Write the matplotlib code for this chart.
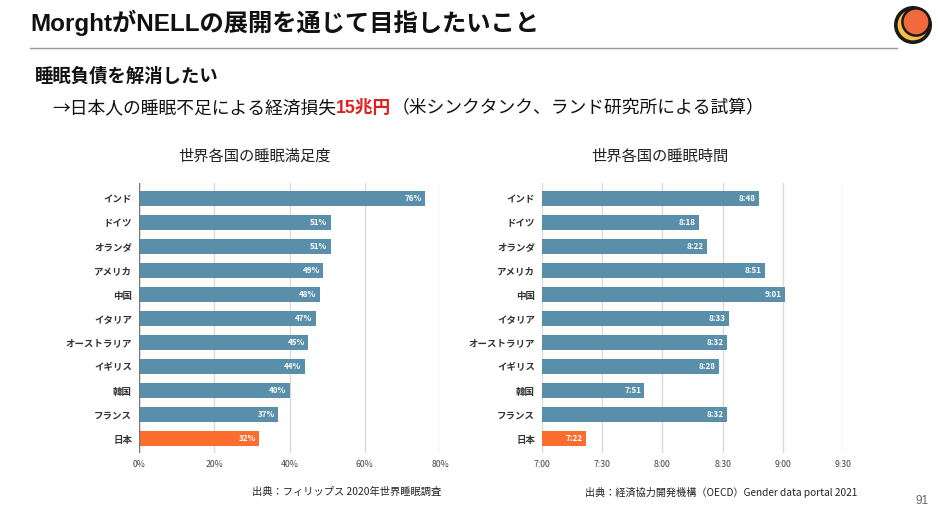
import matplotlib
matplotlib.use("Agg")
import matplotlib.pyplot as plt
from matplotlib.patches import Circle
from matplotlib.lines import Line2D

plt.rcParams['font.family'] = ['Noto Sans CJK JP', 'DejaVu Sans']

countries = ["インド", "ドイツ", "オランダ", "アメリカ", "中国", "イタリア",
             "オーストラリア", "イギリス", "韓国", "フランス", "日本"]
satisfaction = [76, 51, 51, 49, 48, 47, 45, 44, 40, 37, 32]
sleep_time = ["8:48", "8:18", "8:22", "8:51", "9:01", "8:33", "8:32", "8:28", "7:51", "8:32", "7:22"]
sat_ticks = [0, 20, 40, 60, 80]
sat_tick_labels = ["0%", "20%", "40%", "60%", "80%"]
time_ticks = ["7:00", "7:30", "8:00", "8:30", "9:00", "9:30"]

def to_min(s):
    h, m = s.split(":")
    return int(h) * 60 + int(m)

sleep_min = [to_min(s) for s in sleep_time]
time_tick_min = [to_min(s) for s in time_ticks]

BLUE = "#5a8fab"
ORANGE = "#fe6d30"
colors = [ORANGE if c == "日本" else BLUE for c in countries]

W, H = 940, 528
fig = plt.figure(figsize=(W / 100, H / 100), dpi=100)
fig.patch.set_facecolor("white")

def fx(px):
    return px / W

def fy(py):
    return 1 - py / H

HEAD = ['Liberation Sans', 'Noto Sans CJK JP']
CJK = ['Noto Sans CJK JP', 'DejaVu Sans']

# Header
fig.text(fx(30), fy(23), "MorghtがNELLの展開を通じて目指したいこと", fontsize=17.5,
         fontweight="bold", va="center", ha="left", color="#111111", family=HEAD)
fig.add_artist(Line2D([fx(30), fx(897)], [fy(48), fy(48)], color="#9a9a9a", lw=1))

# Logo
logo_ax = fig.add_axes([fx(893), fy(45), fx(40), 40 / H])
logo_ax.set_xlim(-1, 1)
logo_ax.set_ylim(-1, 1)
logo_ax.set_aspect("equal")
logo_ax.axis("off")
logo_ax.add_patch(Circle((0, 0), 0.86, facecolor="#f7c04a", edgecolor="#1a1a1a", lw=2.6))
logo_ax.add_patch(Circle((0.15, 0.15), 0.68, facecolor="#f26a3b", edgecolor="#1a1a1a", lw=1.8))

fig.text(fx(35), fy(77), "睡眠負債を解消したい", fontsize=13.2, fontweight="bold",
         va="center", ha="left", color="#111111", family=HEAD)

# Second line with red part
base = fy(113)
fs2 = 12.8
t1 = fig.text(fx(52), base, "→日本人の睡眠不足による経済損失", fontsize=fs2,
              va="baseline", ha="left", color="#111111", family=CJK)
fig.canvas.draw()
r = fig.canvas.get_renderer()
bb = t1.get_window_extent(renderer=r)
t2 = fig.text(bb.x1 / W, base, "15兆円", fontsize=fs2, fontweight="bold",
              va="baseline", ha="left", color="#e02020", family=HEAD)
bb2 = t2.get_window_extent(renderer=r)
fig.text(bb2.x1 / W, base, "（米シンクタンク、ランド研究所による試算）", fontsize=fs2,
         va="baseline", ha="left", color="#111111", family=CJK)

# Chart titles
fig.text(fx(255), fy(156), "世界各国の睡眠満足度", fontsize=11, ha="center", va="center", color="#222222")
fig.text(fx(660), fy(156), "世界各国の睡眠時間", fontsize=11, ha="center", va="center", color="#222222")

ax_top, ax_bot = 183, 453
ax_h = (ax_bot - ax_top) / H
y = list(range(len(countries)))

def style(ax):
    ax.set_ylim(10.6, -0.65)
    ax.set_yticks(y)
    ax.set_yticklabels(countries, fontsize=6.8, fontweight="bold", color="#333333")
    ax.tick_params(axis="both", length=0)
    ax.tick_params(axis="y", pad=5)
    ax.tick_params(axis="x", pad=5, labelsize=6.3, labelcolor="#444444")
    for s in ax.spines.values():
        s.set_visible(False)
    ax.grid(axis="x", color="#dadada", lw=1)
    ax.set_axisbelow(True)

# Left chart
ax1 = fig.add_axes([fx(139), fy(ax_bot), fx(301), ax_h])
ax1.barh(y, satisfaction, height=0.62, color=colors)
ax1.set_xlim(0, 80)
ax1.set_xticks(sat_ticks)
ax1.set_xticklabels(sat_tick_labels)
style(ax1)
ax1.axvline(0, color="#777777", lw=1, zorder=3)
for i, v in enumerate(satisfaction):
    ax1.text(v - 0.9, i, f"{v}%", color="white", fontsize=5.8, fontweight="bold",
             ha="right", va="center")

# Right chart
ax2 = fig.add_axes([fx(542), fy(ax_bot), fx(301), ax_h])
ax2.barh(y, sleep_min, height=0.62, color=colors)
ax2.set_xlim(time_tick_min[0], time_tick_min[-1])
ax2.set_xticks(time_tick_min)
ax2.set_xticklabels(time_ticks)
style(ax2)
for i, (v, s) in enumerate(zip(sleep_min, sleep_time)):
    ax2.text(v - 1.6, i, s, color="white", fontsize=5.8, fontweight="bold",
             ha="right", va="center")

# Sources
fig.text(fx(252), fy(492), "出典：フィリップス 2020年世界睡眠調査", fontsize=7.4,
         ha="left", va="center", color="#222222")
fig.text(fx(585), fy(492), "出典：経済協力開発機構（OECD）Gender data portal 2021", fontsize=7.3,
         ha="left", va="center", color="#222222")

fig.text(fx(929), fy(501), "91", fontsize=8.5, ha="right", va="center", color="#666666",
         family=HEAD)

fig.savefig("out.png", dpi=100, facecolor="white")
